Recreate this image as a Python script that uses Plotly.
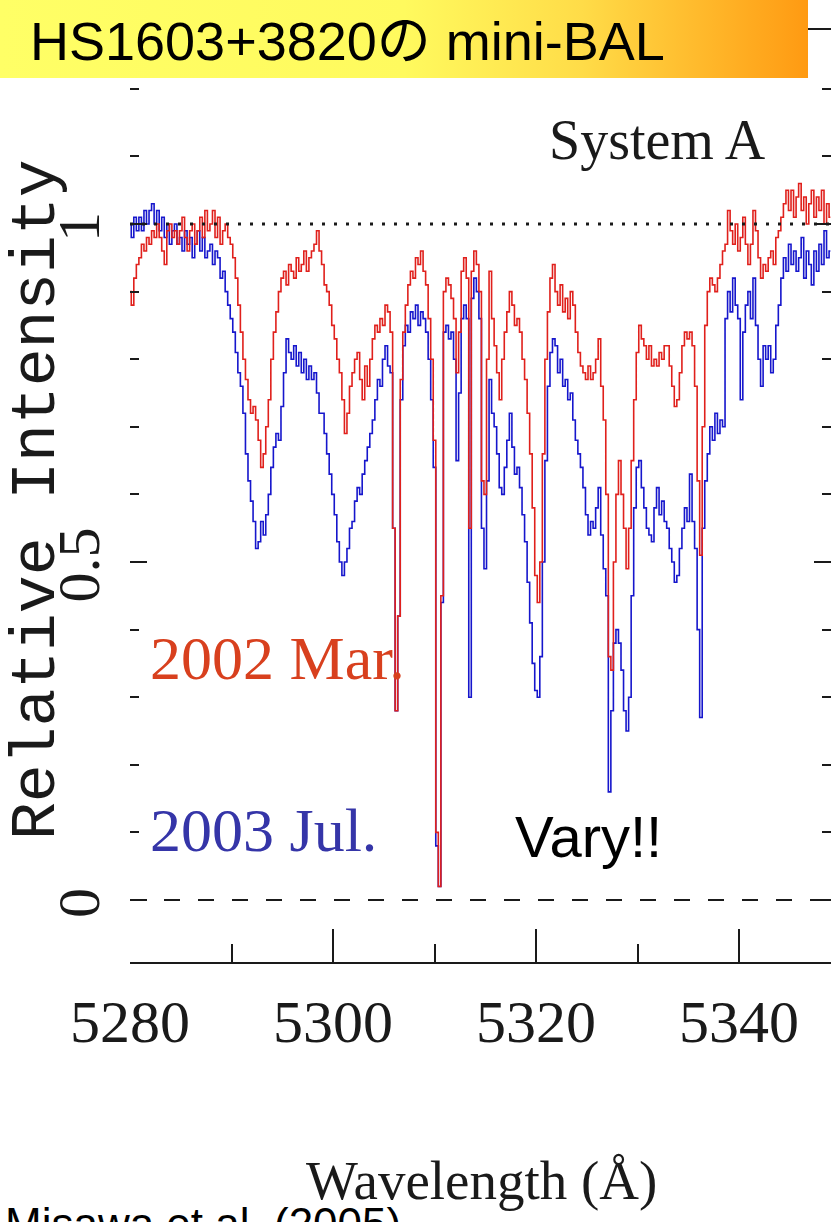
import numpy as np
import plotly.graph_objects as go

# ---- data -----------------------------------------------------------------
# common wavelength grid (Angstrom), 0.25 A sampling
wavelength = np.round(np.arange(5280.0, 5349.0 + 1e-6, 0.25), 2)

# normalised flux, 2002 March epoch
flux_2002_mar = [
    0.90, 0.88, 0.92, 0.94,  0.95, 0.97, 0.96, 0.98,  0.97, 0.99, 0.98, 1.00,
    0.98, 0.96, 0.94, 0.99,  1.00, 0.98, 0.99, 0.97,  0.99, 1.01, 0.98, 0.96,
    0.99, 1.00, 0.97, 0.99,  1.01, 0.98, 1.02, 0.99,  1.00, 1.02, 0.98, 1.01,
    0.97, 0.99, 1.00, 0.98,  0.97, 0.95, 0.92, 0.88,  0.84, 0.80, 0.77, 0.74,
    0.72, 0.73, 0.71, 0.68,  0.64, 0.66, 0.70, 0.74,  0.80, 0.84, 0.87, 0.90,
    0.92, 0.93, 0.91, 0.94,  0.93, 0.92, 0.95, 0.93,  0.94, 0.96, 0.93, 0.95,
    0.96, 0.97, 0.99, 0.96,  0.94, 0.91, 0.90, 0.88,  0.85, 0.83, 0.80, 0.78,
    0.74, 0.69, 0.72, 0.76,  0.78, 0.80, 0.81, 0.77,  0.74, 0.79, 0.76, 0.80,
    0.83, 0.85, 0.84, 0.86,  0.85, 0.88, 0.87, 0.84,  0.55, 0.28, 0.42, 0.77,
    0.84, 0.88, 0.91, 0.93,  0.92, 0.95, 0.94, 0.96,  0.93, 0.91, 0.86, 0.80,
    0.68, 0.10, 0.02, 0.45,  0.90, 0.92, 0.91, 0.89,  0.86, 0.78, 0.84, 0.93,
    0.95, 0.92, 0.55, 0.93,  0.96, 0.94, 0.90, 0.62,  0.60, 0.80, 0.93, 0.86,
    0.82, 0.78, 0.74, 0.80,  0.84, 0.87, 0.90, 0.88,  0.85, 0.86, 0.84, 0.80,
    0.77, 0.72, 0.66, 0.58,  0.48, 0.44, 0.50, 0.66,  0.80, 0.87, 0.92, 0.94,
    0.90, 0.88, 0.91, 0.87,  0.89, 0.86, 0.90, 0.88,  0.84, 0.81, 0.79, 0.78,
    0.77, 0.79, 0.77, 0.78,  0.80, 0.83, 0.76, 0.71,  0.60, 0.36, 0.34, 0.50,
    0.60, 0.65, 0.60, 0.55,  0.49, 0.55, 0.65, 0.74,  0.81, 0.85, 0.83, 0.82,
    0.80, 0.82, 0.79, 0.80,  0.79, 0.81, 0.80, 0.82,  0.82, 0.79, 0.76, 0.73,
    0.74, 0.78, 0.82, 0.84,  0.83, 0.84, 0.82, 0.76,  0.62, 0.51, 0.70, 0.85,
    0.90, 0.92, 0.91, 0.90,  0.92, 0.94, 0.96, 0.97,  1.02, 0.99, 0.97, 1.00,
    0.96, 0.98, 1.01, 0.97,  0.94, 0.97, 1.02, 0.99,  0.95, 0.92, 0.94, 0.93,
    0.95, 0.96, 0.94, 0.98,  0.99, 1.01, 1.03, 1.05,  1.02, 1.05, 1.01, 1.04,
    1.06, 1.02, 1.04, 1.00,  1.03, 1.05, 1.01, 1.04,  1.02, 1.05, 1.00, 1.03,
    1.01,
]

# normalised flux, 2003 July epoch
flux_2003_jul = [
    1.00, 0.98, 1.01, 0.99,  1.01, 0.99, 1.02, 1.00,  1.02, 1.03, 1.00, 1.02,
    0.99, 1.01, 0.98, 1.00,  0.97, 0.99, 1.00, 0.97,  0.98, 0.96, 0.99, 0.97,
    0.98, 0.95, 0.97, 0.99,  0.96, 0.98, 0.95, 0.96,  0.97, 0.94, 0.96, 0.95,
    0.92, 0.93, 0.90, 0.88,  0.86, 0.84, 0.81, 0.78,  0.76, 0.72, 0.66, 0.62,
    0.59, 0.56, 0.52, 0.53,  0.56, 0.54, 0.57, 0.60,  0.64, 0.67, 0.69, 0.68,
    0.73, 0.78, 0.83, 0.81,  0.80, 0.82, 0.79, 0.81,  0.78, 0.80, 0.77, 0.79,
    0.77, 0.78, 0.75, 0.72,  0.72, 0.69, 0.66, 0.63,  0.60, 0.57, 0.53, 0.50,
    0.48, 0.50, 0.52, 0.55,  0.56, 0.59, 0.61, 0.60,  0.63, 0.65, 0.67, 0.69,
    0.71, 0.74, 0.77, 0.76,  0.80, 0.82, 0.79, 0.78,  0.55, 0.28, 0.42, 0.74,
    0.82, 0.85, 0.84, 0.87,  0.86, 0.88, 0.85, 0.87,  0.86, 0.84, 0.80, 0.74,
    0.64, 0.08, 0.02, 0.44,  0.84, 0.85, 0.83, 0.84,  0.80, 0.65, 0.75, 0.86,
    0.88, 0.86, 0.30, 0.89,  0.92, 0.90, 0.86, 0.55,  0.49, 0.62, 0.77, 0.72,
    0.70, 0.66, 0.61, 0.60,  0.64, 0.68, 0.72, 0.67,  0.63, 0.64, 0.61, 0.57,
    0.53, 0.47, 0.41, 0.35,  0.31, 0.30, 0.36, 0.50,  0.65, 0.76, 0.81, 0.83,
    0.82, 0.78, 0.80, 0.76,  0.77, 0.74, 0.75, 0.71,  0.68, 0.66, 0.64, 0.61,
    0.57, 0.54, 0.56, 0.55,  0.58, 0.61, 0.54, 0.49,  0.45, 0.16, 0.28, 0.38,
    0.40, 0.38, 0.34, 0.28,  0.25, 0.30, 0.45, 0.58,  0.64, 0.65, 0.61, 0.58,
    0.55, 0.54, 0.53, 0.58,  0.61, 0.57, 0.59, 0.56,  0.55, 0.52, 0.50, 0.47,
    0.48, 0.52, 0.55, 0.58,  0.56, 0.63, 0.56, 0.52,  0.40, 0.27, 0.55, 0.62,
    0.66, 0.70, 0.68, 0.72,  0.69, 0.71, 0.70, 0.86,  0.90, 0.87, 0.92, 0.88,
    0.86, 0.74, 0.84, 0.88,  0.90, 0.86, 0.92, 0.85,  0.80, 0.76, 0.82, 0.80,
    0.82, 0.78, 0.80, 0.85,  0.88, 0.92, 0.95, 0.93,  0.97, 0.94, 0.96, 0.93,
    0.95, 0.98, 0.92, 0.96,  0.94, 0.91, 0.96, 0.93,  0.97, 0.94, 0.99, 0.95,
    0.96,
]

x_tick_vals = [5280, 5300, 5320, 5340]
y_tick_vals = [0, 0.5, 1]
y_tick_text = ["0", "0.5", "1"]

assert len(flux_2002_mar) == len(wavelength) == len(flux_2003_jul)

# ---- geometry ---------------------------------------------------------------
W, H = 831, 1222
PL, PR, PT, PB = 130, 831, 30, 962      # plot box (pixels)
PX_PER_A = 10.15                         # pixels per Angstrom
PX_PER_UNIT = 676.0                      # pixels per unit of intensity
Y_ZERO_PX = 900                          # pixel row of intensity 0

x_range = [5280, 5280 + (PR - PL) / PX_PER_A]
y_range = [-(PB - Y_ZERO_PX) / PX_PER_UNIT, (Y_ZERO_PX - PT) / PX_PER_UNIT]


def fx(px):
    return px / W


def fy(py):
    return 1 - py / H


INK = "#1a1a1a"
RED = "#E0201C"
BLUE = "#1616CC"
SERIF = "Liberation Serif, Times New Roman, serif"
SANS = "Liberation Sans, Arial, Noto Sans CJK JP, sans-serif"

fig = go.Figure()

# spectra
fig.add_trace(go.Scatter(
    x=wavelength, y=flux_2003_jul, mode="lines", name="2003 Jul.",
    line=dict(color=BLUE, width=1.6, shape="hvh"), hoverinfo="skip"))
fig.add_trace(go.Scatter(
    x=wavelength, y=flux_2002_mar, mode="lines", name="2002 Mar.",
    line=dict(color=RED, width=1.6, shape="hvh"), hoverinfo="skip"))

# title banner with a yellow-to-orange gradient, on a pixel-space overlay
fig.add_trace(go.Scatter(
    x=[0, 808, 808, 0, 0], y=[0, 0, 78, 78, 0],
    xaxis="x2", yaxis="y2", mode="lines", line=dict(width=0),
    fill="toself",
    fillgradient=dict(type="horizontal", colorscale=[
        [0.0, "#FFFF66"], [0.5, "#FFFA5E"], [0.72, "#FFDC48"], [1.0, "#FF9A12"]]),
    hoverinfo="skip"))

# reference levels: continuum (dotted) and zero (dashed)
fig.add_shape(type="line", xref="x", yref="y", x0=x_range[0], x1=x_range[1],
              y0=1, y1=1, line=dict(color=INK, width=3, dash="3px,9px"))
fig.add_shape(type="line", xref="x", yref="y", x0=x_range[0], x1=x_range[1],
              y0=0, y1=0, line=dict(color=INK, width=2, dash="16px,18px"))

annotations = [
    dict(text="HS1603+3820の mini-BAL", x=fx(28), y=fy(41), xanchor="left",
         yanchor="middle", font=dict(family=SANS, size=54, color="black")),
    dict(text="System A", x=fx(657), y=fy(140), xanchor="center",
         yanchor="middle", font=dict(family=SERIF, size=56, color=INK)),
    dict(text="2002 Mar.", x=fx(148), y=fy(658), xanchor="left",
         yanchor="middle", font=dict(family=SERIF, size=62, color="#D8401E")),
    dict(text="2003 Jul.", x=fx(148), y=fy(830), xanchor="left",
         yanchor="middle", font=dict(family=SERIF, size=62, color="#3535A8")),
    dict(text="Vary!!", x=fx(588), y=fy(836), xanchor="center",
         yanchor="middle", font=dict(family=SANS, size=58, color="black")),
    dict(text="Wavelength (Å)", x=fx(481), y=fy(1180), xanchor="center",
         yanchor="middle", font=dict(family=SERIF, size=55, color=INK)),
    dict(text="Relative Intensity", x=fx(37), y=fy(500), xanchor="center",
         yanchor="middle", textangle=-90,
         font=dict(family="Liberation Mono, Courier New, monospace", size=63, color=INK)),
    dict(text="Misawa et al. (2005)", x=fx(3), y=fy(1197), xanchor="left",
         yanchor="top", font=dict(family=SANS, size=44, color="black")),
]
for a in annotations:
    a.update(xref="paper", yref="paper", showarrow=False)

fig.update_layout(
    width=W, height=H, autosize=False,
    margin=dict(l=0, r=0, t=0, b=0),
    paper_bgcolor="white", plot_bgcolor="rgba(0,0,0,0)",
    showlegend=False,
    annotations=annotations,
    xaxis=dict(
        domain=[PL / W, PR / W], range=x_range, anchor="y", automargin=False,
        showgrid=False, zeroline=False,
        showline=True, linecolor=INK, linewidth=2, mirror=True,
        tickmode="array", tickvals=x_tick_vals,
        ticks="inside", ticklen=33, tickwidth=1.5, tickcolor=INK,
        minor=dict(tickmode="linear", tick0=5280, dtick=10, ticks="inside",
                   ticklen=18, tickwidth=1.5, tickcolor=INK),
        tickfont=dict(family=SERIF, size=60, color=INK),
        ticklabelstandoff=6,
    ),
    yaxis=dict(
        domain=[fy(PB), fy(PT)], range=y_range, anchor="x", automargin=False,
        showgrid=False, zeroline=False, showline=False, mirror="ticks",
        tickmode="array", tickvals=y_tick_vals, ticktext=y_tick_text,
        ticks="inside", ticklen=17, tickwidth=2, tickcolor=INK,
        minor=dict(tickmode="linear", tick0=0, dtick=0.1, ticks="inside",
                   ticklen=9, tickwidth=2, tickcolor=INK),
        tickangle=-90,
        tickfont=dict(family=SERIF, size=60, color=INK),
        ticklabelstandoff=18, ticklabelshift=12,
    ),
    xaxis2=dict(domain=[0, 1], range=[0, W], anchor="y2", visible=False,
                fixedrange=True),
    yaxis2=dict(domain=[0, 1], range=[H, 0], anchor="x2", visible=False,
                fixedrange=True),
)

fig.write_html("out.html")
